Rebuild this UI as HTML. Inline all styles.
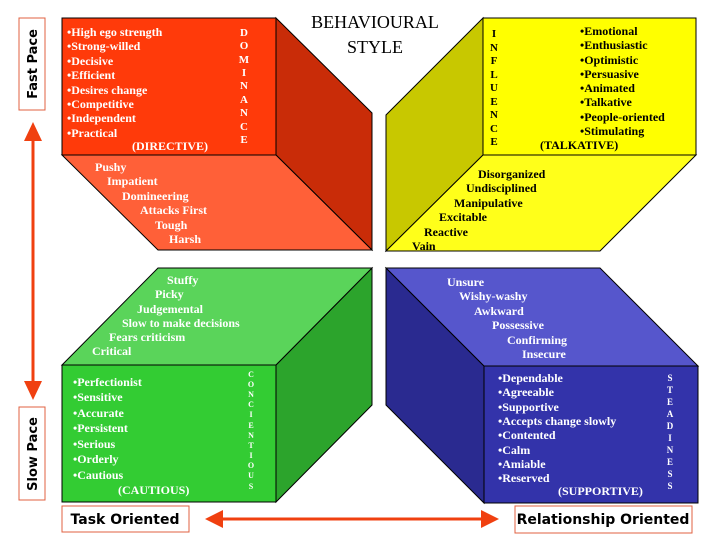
<!DOCTYPE html>
<html><head><meta charset="utf-8"><style>
html,body{margin:0;padding:0;background:#fff}
.w{fill:#fff}.k{fill:#000}
</style></head><body>
<svg width="720" height="540" viewBox="0 0 720 540" xmlns="http://www.w3.org/2000/svg" font-family="'Liberation Serif','Times New Roman',Times,serif" font-weight="bold" font-size="12">
<!-- red cube -->
<polygon points="276,18 372,113 372,250 276,155" fill="#c92c08" stroke="#000" stroke-width="1"/>
<polygon points="62,155 276,155 372,250 158,250" fill="#ff6038" stroke="#000" stroke-width="1"/>
<rect x="62" y="18" width="214" height="137" fill="#ff3a0a" stroke="#000" stroke-width="1"/>
<!-- yellow cube -->
<polygon points="483,18 386,115 386,251 483,155" fill="#c8c800" stroke="#000" stroke-width="1"/>
<polygon points="483,155 696,155 600,251 386,251" fill="#ffff1a" stroke="#000" stroke-width="1"/>
<rect x="483" y="18" width="213" height="137" fill="#ffff00" stroke="#000" stroke-width="1"/>
<!-- green cube -->
<polygon points="276,365 372,268 372,405 276,502" fill="#2ca42c" stroke="#000" stroke-width="1"/>
<polygon points="62,365 158,268 372,268 276,365" fill="#5ad45a" stroke="#000" stroke-width="1"/>
<rect x="62" y="365" width="214" height="137" fill="#33cc33" stroke="#000" stroke-width="1"/>
<!-- blue cube -->
<polygon points="386,268 484,366 484,503 386,405" fill="#2a2a90" stroke="#000" stroke-width="1"/>
<polygon points="386,268 600,268 698,366 484,366" fill="#5656cc" stroke="#000" stroke-width="1"/>
<rect x="484" y="366" width="214" height="137" fill="#3333aa" stroke="#000" stroke-width="1"/>

<!-- title -->
<text x="375" y="28" text-anchor="middle" class="k" font-size="18" font-weight="normal">BEHAVIOURAL</text>
<text x="375" y="53" text-anchor="middle" class="k" font-size="18" font-weight="normal">STYLE</text>

<!-- red text -->
<g class="w">
<text x="67" y="36">•High ego strength</text>
<text x="67" y="50">•Strong-willed</text>
<text x="67" y="65">•Decisive</text>
<text x="67" y="79">•Efficient</text>
<text x="67" y="94">•Desires change</text>
<text x="67" y="108">•Competitive</text>
<text x="67" y="122">•Independent</text>
<text x="67" y="137">•Practical</text>
<text x="132" y="150">(DIRECTIVE)</text>
<g text-anchor="middle" font-size="11">
<text x="244" y="36">D</text><text x="244" y="49">O</text><text x="244" y="63">M</text><text x="244" y="76">I</text><text x="244" y="89">N</text><text x="244" y="103">A</text><text x="244" y="116">N</text><text x="244" y="130">C</text><text x="244" y="143">E</text>
</g>
<text x="95" y="171">Pushy</text>
<text x="107" y="185">Impatient</text>
<text x="122" y="200">Domineering</text>
<text x="140" y="214">Attacks First</text>
<text x="155" y="229">Tough</text>
<text x="169" y="243">Harsh</text>
</g>

<!-- yellow text -->
<g class="k">
<g text-anchor="middle" font-size="11">
<text x="494" y="37">I</text><text x="494" y="51">N</text><text x="494" y="64">F</text><text x="494" y="78">L</text><text x="494" y="91">U</text><text x="494" y="105">E</text><text x="494" y="118">N</text><text x="494" y="132">C</text><text x="494" y="145">E</text>
</g>
<text x="580" y="35">•Emotional</text>
<text x="580" y="49">•Enthusiastic</text>
<text x="580" y="64">•Optimistic</text>
<text x="580" y="78">•Persuasive</text>
<text x="580" y="92">•Animated</text>
<text x="580" y="106">•Talkative</text>
<text x="580" y="121">•People-oriented</text>
<text x="580" y="135">•Stimulating</text>
<text x="540" y="149">(TALKATIVE)</text>
<text x="478" y="178">Disorganized</text>
<text x="466" y="192">Undisciplined</text>
<text x="454" y="207">Manipulative</text>
<text x="439" y="221">Excitable</text>
<text x="424" y="236">Reactive</text>
<text x="412" y="250">Vain</text>
</g>

<!-- green text -->
<g class="w">
<text x="167" y="284">Stuffy</text>
<text x="155" y="298">Picky</text>
<text x="137" y="313">Judgemental</text>
<text x="122" y="327">Slow to make decisions</text>
<text x="109" y="341">Fears criticism</text>
<text x="92" y="355">Critical</text>
<text x="73" y="386">•Perfectionist</text>
<text x="73" y="401">•Sensitive</text>
<text x="73" y="417">•Accurate</text>
<text x="73" y="432">•Persistent</text>
<text x="73" y="448">•Serious</text>
<text x="73" y="463">•Orderly</text>
<text x="73" y="479">•Cautious</text>
<text x="118" y="494">(CAUTIOUS)</text>
<g text-anchor="middle" font-size="8">
<text x="251" y="377">C</text><text x="251" y="387">O</text><text x="251" y="397">N</text><text x="251" y="407">C</text><text x="251" y="417">I</text><text x="251" y="428">E</text><text x="251" y="438">N</text><text x="251" y="448">T</text><text x="251" y="458">I</text><text x="251" y="468">O</text><text x="251" y="478">U</text><text x="251" y="489">S</text>
</g>
</g>

<!-- blue text -->
<g class="w">
<text x="447" y="286">Unsure</text>
<text x="459" y="300">Wishy-washy</text>
<text x="474" y="315">Awkward</text>
<text x="492" y="329">Possessive</text>
<text x="507" y="344">Confirming</text>
<text x="522" y="358">Insecure</text>
<text x="498" y="382">•Dependable</text>
<text x="498" y="396">•Agreeable</text>
<text x="498" y="411">•Supportive</text>
<text x="498" y="425">•Accepts change slowly</text>
<text x="498" y="439">•Contented</text>
<text x="498" y="454">•Calm</text>
<text x="498" y="468">•Amiable</text>
<text x="498" y="482">•Reserved</text>
<text x="558" y="495">(SUPPORTIVE)</text>
<g text-anchor="middle" font-size="9">
<text x="670" y="381">S</text><text x="670" y="393">T</text><text x="670" y="405">E</text><text x="670" y="417">A</text><text x="670" y="429">D</text><text x="670" y="441">I</text><text x="670" y="453">N</text><text x="670" y="465">E</text><text x="670" y="477">S</text><text x="670" y="489">S</text>
</g>
</g>

<!-- axis labels -->
<g font-family="'DejaVu Sans','Liberation Sans',sans-serif" font-size="13" class="k">
<rect x="19" y="18" width="26" height="92" fill="#fff" stroke="#e06040" stroke-width="1"/>
<text transform="translate(37,64) rotate(-90)" text-anchor="middle">Fast Pace</text>
<rect x="19" y="407" width="26" height="93" fill="#fff" stroke="#e06040" stroke-width="1"/>
<text transform="translate(37,454) rotate(-90)" text-anchor="middle">Slow Pace</text>
<rect x="62" y="506" width="127" height="26" fill="#fff" stroke="#e06040" stroke-width="1"/>
<text x="125" y="524" text-anchor="middle" font-size="14">Task Oriented</text>
<rect x="515" y="506" width="177" height="27" fill="#fff" stroke="#e06040" stroke-width="1"/>
<text x="603" y="524" text-anchor="middle" font-size="14">Relationship Oriented</text>
</g>

<!-- arrows -->
<line x1="33" y1="140" x2="33" y2="382" stroke="#f04010" stroke-width="3"/>
<polygon points="24,141 42,141 33,122" fill="#f04010"/>
<polygon points="24,381 42,381 33,400" fill="#f04010"/>
<line x1="222" y1="519" x2="482" y2="519" stroke="#f04010" stroke-width="3"/>
<polygon points="223,510 223,528 205,519" fill="#f04010"/>
<polygon points="481,510 481,528 499,519" fill="#f04010"/>
</svg>
</body></html>
